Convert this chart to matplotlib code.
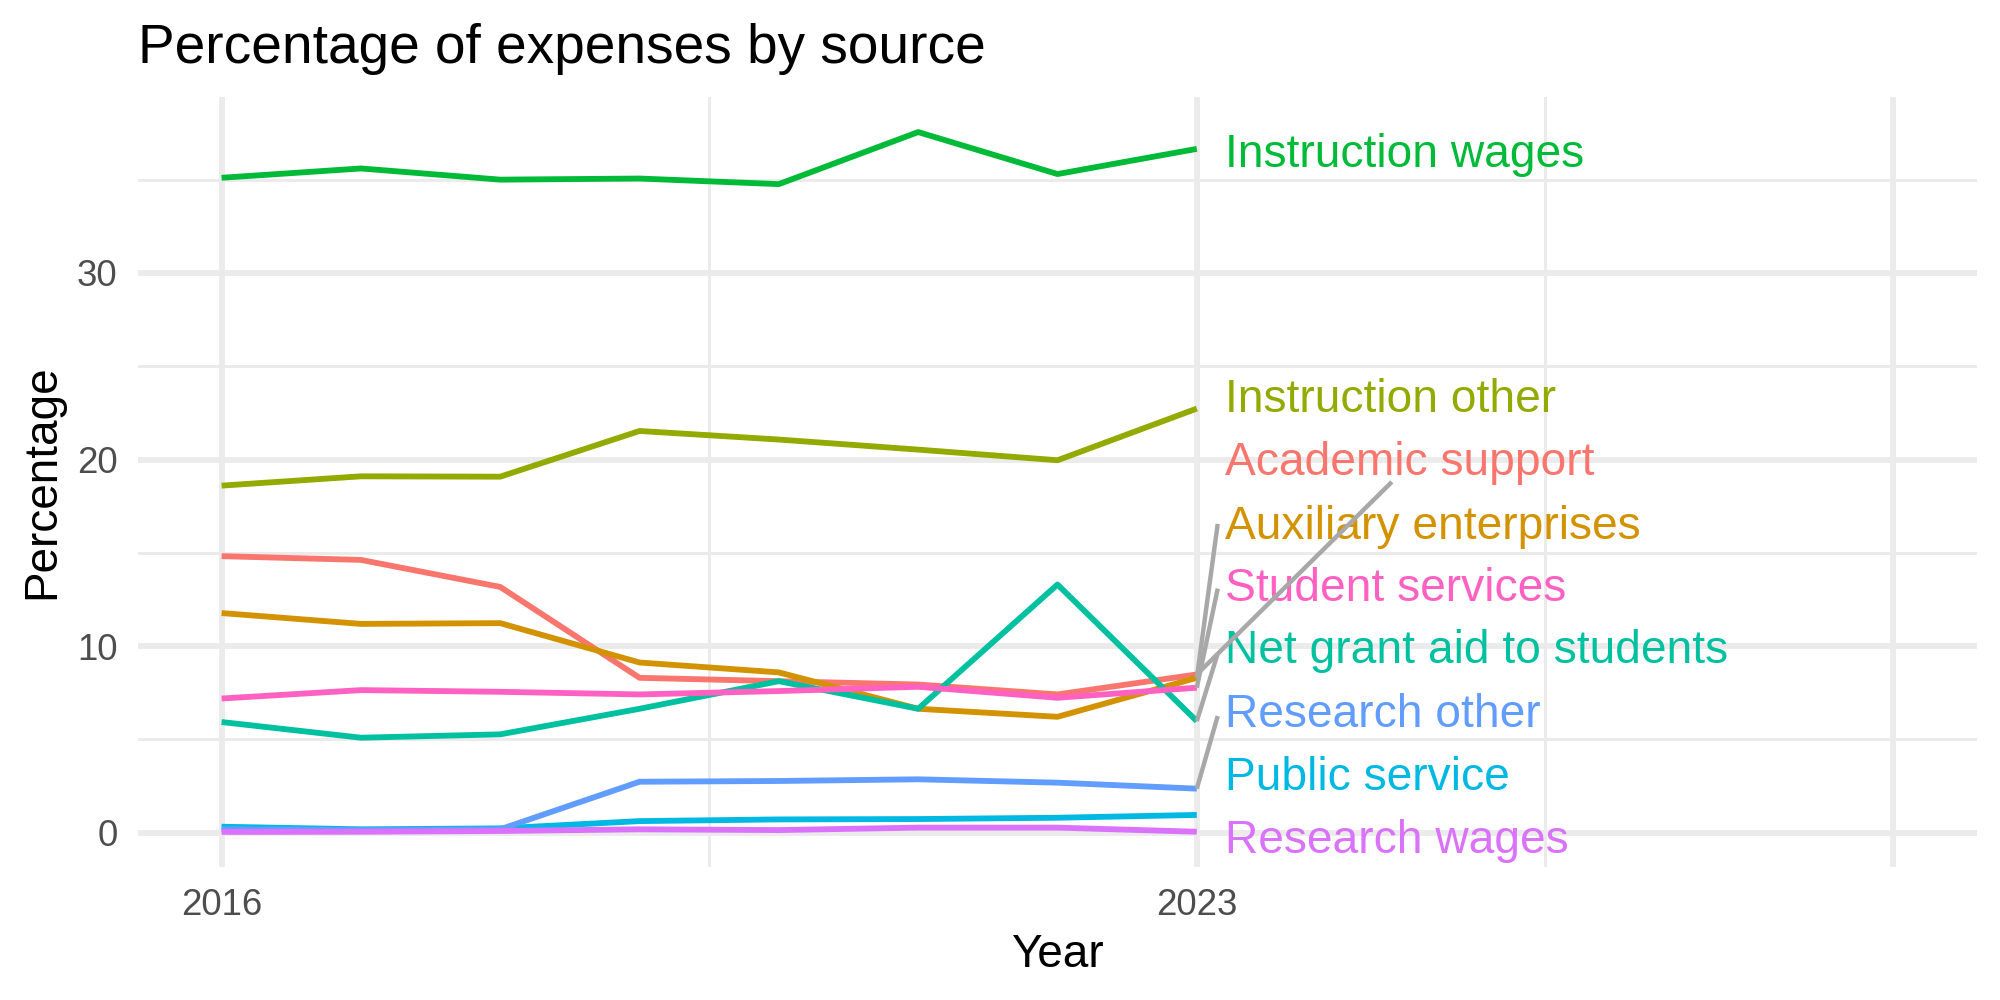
import matplotlib
matplotlib.use('Agg')
import matplotlib.pyplot as plt
from matplotlib import transforms

plt.rcParams['font.family'] = ['Liberation Sans', 'DejaVu Sans']

YEARS = [2016, 2017, 2018, 2019, 2020, 2021, 2022, 2023]

# series in ggplot group order (alphabetical)
SERIES = [
    'Academic support', 'Auxiliary enterprises', 'Instruction other',
    'Instruction wages', 'Net grant aid to students', 'Public service',
    'Research other', 'Research wages', 'Student services']

ACADEMIC_SUPPORT = [14.82, 14.62, 13.17, 8.30, 8.12, 7.94, 7.41, 8.48]
AUXILIARY_ENTERPRISES = [11.77, 11.19, 11.23, 9.12, 8.59, 6.64, 6.21, 8.30]
INSTRUCTION_OTHER = [18.60, 19.10, 19.08, 21.53, 21.07, 20.53, 19.96, 22.73]
INSTRUCTION_WAGES = [35.10, 35.60, 35.00, 35.06, 34.76, 37.55, 35.30, 36.65]
NET_GRANT_AID = [5.93, 5.09, 5.27, 6.64, 8.12, 6.64, 13.30, 5.98]
PUBLIC_SERVICE = [0.32, 0.18, 0.23, 0.62, 0.71, 0.73, 0.80, 0.95]
RESEARCH_OTHER = [0.18, 0.14, 0.18, 2.73, 2.77, 2.86, 2.68, 2.36]
RESEARCH_WAGES = [0.04, 0.05, 0.09, 0.18, 0.14, 0.27, 0.27, 0.05]
STUDENT_SERVICES = [7.19, 7.64, 7.55, 7.41, 7.59, 7.82, 7.23, 7.77]

VALUES = [ACADEMIC_SUPPORT, AUXILIARY_ENTERPRISES, INSTRUCTION_OTHER,
          INSTRUCTION_WAGES, NET_GRANT_AID, PUBLIC_SERVICE,
          RESEARCH_OTHER, RESEARCH_WAGES, STUDENT_SERVICES]

# ggplot hue palette for 9 groups
COLORS = ['#F8766D', '#D39200', '#93AA00', '#00BA38', '#00C19F',
          '#00B9E3', '#619CFF', '#DB72FB', '#FF61C3']

# repelled label layout: y of label (cap centre) and leader segment end (or None)
LABEL_Y = [20.03, 16.65, 23.44, 36.56, 9.96, 3.19, 6.57, -0.18, 13.30]
SEGMENT_END = [(2024.40, 18.80), (2023.15, 16.55), None, None, (2023.15, 9.60),
               None, (2023.15, 6.25), None, (2023.15, 13.08)]

LABEL_X = 2023.2
LABEL_SIZE = 16.6

fig = plt.figure(figsize=(10, 5), dpi=200)
ax = fig.add_axes([0.069, 0.133, 0.9195, 0.770])

for name, vals, col in zip(SERIES, VALUES, COLORS):
    ax.plot(YEARS, vals, color=col, lw=2.1, solid_capstyle='butt', zorder=3)

# labels sit with cap centre at LABEL_Y, so shift baseline down
text_trans = transforms.offset_copy(ax.transData, fig=fig, y=-0.358 * LABEL_SIZE, units='points')
for name, vals, col, ly, seg in zip(SERIES, VALUES, COLORS, LABEL_Y, SEGMENT_END):
    ax.text(LABEL_X, ly, name, color=col, fontsize=LABEL_SIZE,
            ha='left', va='baseline', transform=text_trans, zorder=4)
    if seg is not None:
        ax.plot([YEARS[-1], seg[0]], [vals[-1], seg[1]], color='#A8A8A8',
                lw=1.6, solid_capstyle='butt', zorder=5)

ax.set_xlim(2015.4, 2028.6)
ax.set_ylim(-1.84, 39.43)

ax.set_xticks([2016, 2023, 2028])
ax.set_xticklabels(['2016', '2023', ''])
ax.set_xticks([2019.5, 2025.5], minor=True)
ax.set_yticks([0, 10, 20, 30])
ax.set_yticks([5, 15, 25, 35], minor=True)

ax.grid(which='major', color='#EBEBEB', lw=2.1)
ax.grid(which='minor', color='#EBEBEB', lw=1.05)
ax.set_axisbelow(True)
for s in ax.spines.values():
    s.set_visible(False)
ax.tick_params(which='both', length=0, pad=7.4, labelsize=13.2, labelcolor='#4D4D4D')

fig.text(0.069, 0.9367, 'Percentage of expenses by source', fontsize=19.8,
         ha='left', va='baseline')
fig.text(0.5285, 0.033, 'Year', fontsize=16.5, ha='center', va='baseline')
fig.text(0.021, 0.518, 'Percentage', fontsize=16.5, ha='center', va='center',
         rotation=90)

plt.savefig('out.png', dpi=200, facecolor='white')
plt.close()
